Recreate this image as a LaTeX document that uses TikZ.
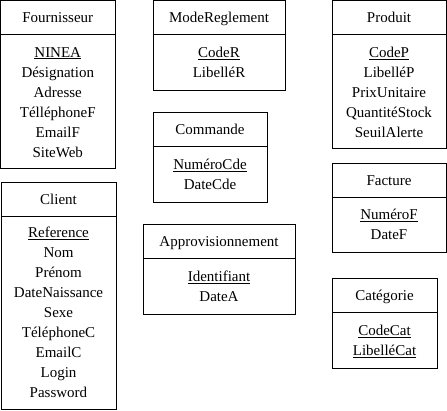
\documentclass[tikz,border=0pt]{standalone}
\usepackage{fontspec}
\setmainfont{Liberation Serif}
\usepackage{tikz}

\begin{document}
\begin{tikzpicture}
		[
		x=1pt, y=-1pt, font=\fontsize{15}{17}\selectfont,
		%Voreinstellung für die Kästen
		boite/.style={draw=black, line width=0.9pt},
		attr/.style={inner sep=0pt, text height=0.66em, text depth=0pt, yshift=-2pt}
		]
		
		\useasboundingbox (0,0) rectangle (447,411);
		
		%Fournisseur
		\draw[boite] (0.5,0.5) rectangle (115,168);
		\draw[boite] (0.5,34) -- (115,34);
		\node[attr] (fournisseur) at (57.75,17.5) {Fournisseur};
		\node[attr] (fcle) at (57.75,52) {\underline{NINEA}};
		\foreach \a [count=\i] in {Désignation,Adresse,TélléphoneF,EmailF,SiteWeb}
		\node[attr] (f\i) at (57.75,52+20*\i) {\a};
		
		%Client
		\draw[boite] (1,182) rectangle (116,409);
		\draw[boite] (1,216) -- (116,216);
		\node[attr] (client) at (58.5,199) {Client};
		\node[attr] (ccle) at (58.5,232) {\underline{Reference}};
		\foreach \a [count=\i] in {Nom,Prénom,DateNaissance,Sexe,TéléphoneC,EmailC,Login,Password}
		\node[attr] (c\i) at (58.5,232+20*\i) {\a};
		
		%ModeReglement
		\draw[boite] (153,0.5) rectangle (285,90);
		\draw[boite] (153,34) -- (285,34);
		\node[attr] (mode) at (219,17.5) {ModeReglement};
		\node[attr] (mcle) at (219,52) {\underline{CodeR}};
		\node[attr] (m1) at (219,72) {LibelléR};
		
		%Commande
		\draw[boite] (153,112) rectangle (267,202);
		\draw[boite] (153,146) -- (267,146);
		\node[attr] (commande) at (210,129) {Commande};
		\node[attr] (cdcle) at (210,164) {\underline{NuméroCde}};
		\node[attr] (cd1) at (210,184) {DateCde};
		
		%Approvisionnement
		\draw[boite] (143,224) rectangle (295,314);
		\draw[boite] (143,258) -- (295,258);
		\node[attr] (appro) at (219,241) {Approvisionnement};
		\node[attr] (acle) at (219,276) {\underline{Identifiant}};
		\node[attr] (a1) at (219,296) {DateA};
		
		%Produit
		\draw[boite] (332,0.5) rectangle (446,148);
		\draw[boite] (332,34) -- (446,34);
		\node[attr] (produit) at (389,17.5) {Produit};
		\node[attr] (pcle) at (389,52) {\underline{CodeP}};
		\foreach \a [count=\i] in {LibelléP,PrixUnitaire,QuantitéStock,SeuilAlerte}
		\node[attr] (p\i) at (389,52+20*\i) {\a};
		
		%Facture
		\draw[boite] (332,163) rectangle (446,252);
		\draw[boite] (332,197) -- (446,197);
		\node[attr] (facture) at (389,180) {Facture};
		\node[attr] (facle) at (389,214) {\underline{NuméroF}};
		\node[attr] (fa1) at (389,234) {DateF};
		
		%Catégorie
		\draw[boite] (332,278) rectangle (437,368);
		\draw[boite] (332,312) -- (437,312);
		\node[attr] (categorie) at (384.5,295) {Catégorie};
		\node[attr] (catcle) at (384.5,330) {\underline{CodeCat}};
		\node[attr] (cat1) at (384.5,350) {\underline{LibelléCat}};
		
\end{tikzpicture}
\end{document}
